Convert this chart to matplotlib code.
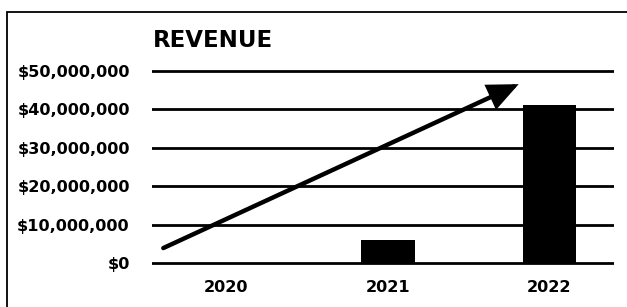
import matplotlib.pyplot as plt
from matplotlib.patches import Rectangle
from matplotlib.ticker import FuncFormatter

years = ["2020", "2021", "2022"]
revenue = [0, 6_000_000, 41_000_000]
y_ticks = [0, 10_000_000, 20_000_000, 30_000_000, 40_000_000, 50_000_000]

plt.rcParams['font.family'] = ['DejaVu Sans']

fig = plt.figure(figsize=(6.27, 3.07), dpi=100)
W, H = 627, 307

# axes placed in pixel terms
left, right = 152, 614
y_top_px, y_bot_px = 63, 265
ax = fig.add_axes([left / W, 1 - y_bot_px / H, (right - left) / W, (y_bot_px - y_top_px) / H])

x = range(len(years))
ax.bar(x, revenue, width=0.33, color='black', zorder=3)

ax.set_ylim(-500_000, 52_000_000)
ax.set_xlim(-0.46, 2.4)
ax.set_yticks(y_ticks)
ax.yaxis.set_major_formatter(FuncFormatter(lambda v, p: f"${v:,.0f}"))
ax.set_xticks(list(x))
ax.set_xticklabels(years)
ax.grid(axis='y', color='black', linewidth=2.0, zorder=1)
ax.tick_params(length=0, labelsize=11.6, pad=16)
ax.tick_params(axis='x', pad=11)
for lab in ax.get_xticklabels() + ax.get_yticklabels():
    lab.set_fontweight('bold')
for s in ax.spines.values():
    s.set_visible(False)

# trend arrow
ax.annotate("", xy=(1.81, 46_500_000), xytext=(-0.39, 3_900_000),
            arrowprops=dict(arrowstyle='-|>,head_length=1.7,head_width=0.75',
                            color='black', lw=3.2, shrinkA=0, shrinkB=0,
                            joinstyle='miter'),
            zorder=4)

fig.text(153 / W, 1 - 47 / H, "REVENUE", fontsize=16.5, fontweight='bold', va='baseline')

# outer frame
fig.patches.append(Rectangle((7 / W, -0.1), 1.2, 1.1 - 12 / H, transform=fig.transFigure,
                             fill=False, edgecolor='black', linewidth=1.3))

fig.savefig("out.png", dpi=100)
